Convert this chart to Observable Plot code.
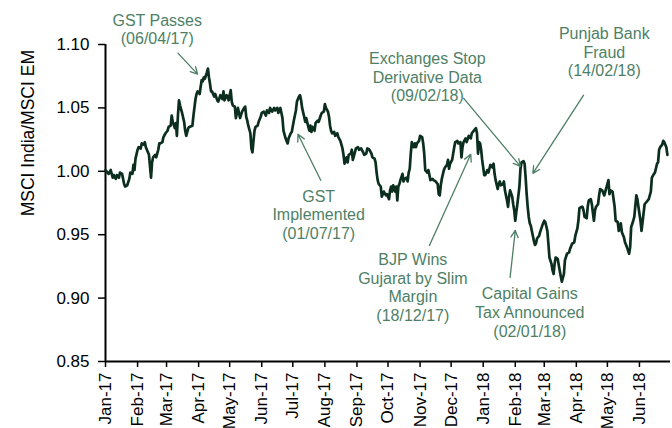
<!DOCTYPE html>
<html><head><meta charset="utf-8">
<script src="https://cdn.jsdelivr.net/npm/d3@7"></script>
<script src="https://cdn.jsdelivr.net/npm/@observablehq/plot@0.6"></script>
<style>body{margin:0;background:#fff;}</style>
</head><body><div id="chart"></div>
<script>
const dates = [
"2017-01-01","2017-01-03","2017-01-04","2017-01-06","2017-01-08","2017-01-09","2017-01-11","2017-01-12","2017-01-14","2017-01-15",
"2017-01-17","2017-01-19","2017-01-20","2017-01-22","2017-01-24","2017-01-25","2017-01-27","2017-01-28","2017-01-29","2017-01-30",
"2017-02-01","2017-02-02","2017-02-04","2017-02-05","2017-02-07","2017-02-08","2017-02-09","2017-02-11","2017-02-12","2017-02-14",
"2017-02-15","2017-02-16","2017-02-18","2017-02-19","2017-02-21","2017-02-22","2017-02-23","2017-02-25","2017-02-26","2017-02-28",
"2017-03-02","2017-03-03","2017-03-05","2017-03-06","2017-03-07","2017-03-09","2017-03-10","2017-03-11","2017-03-12","2017-03-13",
"2017-03-14","2017-03-16","2017-03-18","2017-03-19","2017-03-20","2017-03-22","2017-03-23","2017-03-26","2017-03-27","2017-03-29",
"2017-03-30","2017-03-31","2017-04-02","2017-04-03","2017-04-04","2017-04-05","2017-04-06","2017-04-07","2017-04-09","2017-04-10",
"2017-04-11","2017-04-12","2017-04-13","2017-04-14","2017-04-16","2017-04-17","2017-04-19","2017-04-20","2017-04-22","2017-04-24",
"2017-04-25","2017-04-26","2017-04-28","2017-04-29","2017-04-30","2017-05-02","2017-05-03","2017-05-04","2017-05-06","2017-05-07",
"2017-05-09","2017-05-10","2017-05-11","2017-05-13","2017-05-15","2017-05-16","2017-05-17","2017-05-18","2017-05-19","2017-05-21",
"2017-05-22","2017-05-23","2017-05-24","2017-05-25","2017-05-26","2017-05-28","2017-05-29","2017-05-31","2017-06-01","2017-06-03",
"2017-06-05","2017-06-06","2017-06-08","2017-06-09","2017-06-11","2017-06-13","2017-06-14","2017-06-16","2017-06-17","2017-06-19",
"2017-06-21","2017-06-22","2017-06-24","2017-06-26","2017-06-27","2017-06-29","2017-06-30","2017-07-02","2017-07-04","2017-07-05",
"2017-07-07","2017-07-08","2017-07-09","2017-07-10","2017-07-12","2017-07-13","2017-07-14","2017-07-16","2017-07-17","2017-07-18",
"2017-07-19","2017-07-20","2017-07-22","2017-07-23","2017-07-25","2017-07-26","2017-07-28","2017-07-29","2017-07-31","2017-08-01",
"2017-08-02","2017-08-04","2017-08-05","2017-08-06","2017-08-07","2017-08-08","2017-08-10","2017-08-11","2017-08-13","2017-08-14",
"2017-08-16","2017-08-18","2017-08-19","2017-08-20","2017-08-22","2017-08-23","2017-08-24","2017-08-26","2017-08-27","2017-08-28",
"2017-08-30","2017-08-31","2017-09-02","2017-09-03","2017-09-05","2017-09-07","2017-09-08","2017-09-10","2017-09-11","2017-09-13",
"2017-09-15","2017-09-16","2017-09-18","2017-09-19","2017-09-20","2017-09-21","2017-09-22","2017-09-23","2017-09-24","2017-09-25",
"2017-09-27","2017-09-29","2017-09-30","2017-10-02","2017-10-03","2017-10-04","2017-10-05","2017-10-06","2017-10-08","2017-10-09",
"2017-10-10","2017-10-11","2017-10-12","2017-10-13","2017-10-15","2017-10-16","2017-10-17","2017-10-19","2017-10-20","2017-10-21",
"2017-10-22","2017-10-23","2017-10-24","2017-10-26","2017-10-27","2017-10-28","2017-10-29","2017-10-31","2017-11-01","2017-11-03",
"2017-11-04","2017-11-05","2017-11-06","2017-11-08","2017-11-09","2017-11-10","2017-11-11","2017-11-13","2017-11-14","2017-11-16",
"2017-11-18","2017-11-19","2017-11-20","2017-11-21","2017-11-22","2017-11-24","2017-11-25","2017-11-27","2017-11-28","2017-11-29",
"2017-11-30","2017-12-02","2017-12-04","2017-12-05","2017-12-07","2017-12-08","2017-12-10","2017-12-11","2017-12-12","2017-12-13",
"2017-12-15","2017-12-16","2017-12-18","2017-12-20","2017-12-21","2017-12-23","2017-12-25","2017-12-26","2017-12-27","2017-12-28",
"2017-12-29","2017-12-30","2017-12-31","2018-01-02","2018-01-03","2018-01-05","2018-01-06","2018-01-08","2018-01-10","2018-01-11",
"2018-01-12","2018-01-13","2018-01-15","2018-01-16","2018-01-17","2018-01-18","2018-01-20","2018-01-21","2018-01-22","2018-01-24",
"2018-01-25","2018-01-26","2018-01-27","2018-01-29","2018-01-30","2018-01-31","2018-02-01","2018-02-02","2018-02-03","2018-02-05",
"2018-02-06","2018-02-07","2018-02-09","2018-02-10","2018-02-11","2018-02-12","2018-02-13","2018-02-14","2018-02-15","2018-02-16",
"2018-02-17","2018-02-18","2018-02-19","2018-02-20","2018-02-21","2018-02-22","2018-02-24","2018-02-25","2018-02-27","2018-03-01",
"2018-03-02","2018-03-04","2018-03-05","2018-03-06","2018-03-08","2018-03-09","2018-03-10","2018-03-11","2018-03-12","2018-03-14",
"2018-03-15","2018-03-17","2018-03-18","2018-03-20","2018-03-21","2018-03-23","2018-03-25","2018-03-26","2018-03-28","2018-03-30",
"2018-03-31","2018-04-02","2018-04-03","2018-04-04","2018-04-06","2018-04-07","2018-04-08","2018-04-09","2018-04-11","2018-04-12",
"2018-04-13","2018-04-15","2018-04-16","2018-04-18","2018-04-19","2018-04-20","2018-04-22","2018-04-23","2018-04-24","2018-04-26",
"2018-04-28","2018-04-29","2018-05-01","2018-05-02","2018-05-03","2018-05-04","2018-05-06","2018-05-07","2018-05-08","2018-05-09",
"2018-05-11","2018-05-12","2018-05-14","2018-05-15","2018-05-17","2018-05-18","2018-05-20","2018-05-22","2018-05-23","2018-05-24",
"2018-05-26","2018-05-27","2018-05-29","2018-05-30","2018-05-31","2018-06-02","2018-06-03","2018-06-05","2018-06-06","2018-06-08",
"2018-06-10","2018-06-12","2018-06-13","2018-06-15","2018-06-16","2018-06-18","2018-06-19","2018-06-20","2018-06-21","2018-06-23",
"2018-06-24","2018-06-25","2018-06-27","2018-06-28"
];
const ratio = [
1.001,0.999,0.998,1.001,0.995,0.997,0.994,0.997,0.995,0.999,
0.998,0.990,0.988,0.989,0.994,0.999,0.998,1.005,1.001,1.010,
1.017,1.019,1.018,1.022,1.021,1.023,1.019,1.015,1.013,0.995,
1.007,1.011,1.013,1.011,1.017,1.022,1.022,1.023,1.027,1.030,
1.032,1.035,1.036,1.044,1.039,1.034,1.038,1.028,1.044,1.056,
1.052,1.046,1.039,1.032,1.028,1.034,1.035,1.036,1.044,1.057,
1.061,1.063,1.061,1.067,1.072,1.071,1.074,1.073,1.078,1.081,
1.074,1.069,1.063,1.063,1.059,1.061,1.056,1.055,1.060,1.057,
1.063,1.056,1.060,1.059,1.056,1.064,1.055,1.052,1.051,1.042,
1.050,1.046,1.042,1.047,1.050,1.051,1.043,1.040,1.036,1.030,
1.018,1.015,1.024,1.032,1.035,1.036,1.039,1.043,1.046,1.047,
1.044,1.048,1.046,1.050,1.047,1.050,1.048,1.050,1.046,1.050,
1.042,1.032,1.026,1.022,1.026,1.030,1.031,1.040,1.048,1.055,
1.059,1.060,1.056,1.050,1.043,1.039,1.042,1.035,1.032,1.036,
1.031,1.035,1.032,1.038,1.040,1.039,1.044,1.046,1.047,1.053,
1.050,1.047,1.043,1.036,1.032,1.030,1.031,1.028,1.030,1.027,
1.024,1.018,1.013,1.006,1.011,1.007,1.013,1.014,1.017,1.009,
1.015,1.018,1.019,1.017,1.018,1.015,1.013,1.014,1.018,1.017,
1.014,1.011,1.010,1.007,0.999,0.993,0.990,0.989,0.988,0.980,
0.984,0.981,0.982,0.978,0.985,0.988,0.984,0.989,0.984,0.988,
0.977,0.988,0.990,0.993,0.998,0.992,0.994,0.995,0.992,0.999,
1.002,1.014,1.023,1.019,1.022,1.019,1.022,1.024,1.028,1.027,
1.022,1.014,1.001,0.999,1.001,0.997,0.993,0.994,0.993,0.992,
0.990,0.982,0.981,0.989,0.994,1.001,1.003,1.005,1.009,1.002,
1.006,1.009,1.019,1.023,1.024,1.022,1.023,1.011,1.019,1.023,
1.026,1.023,1.028,1.026,1.030,1.032,1.034,1.030,1.014,1.023,
1.022,1.017,1.009,0.997,0.997,1.001,0.999,1.005,1.003,1.006,
0.998,0.993,0.986,0.990,0.992,0.989,0.990,0.992,0.985,0.977,
0.972,0.980,0.985,0.980,0.974,0.969,0.961,0.968,0.974,0.988,
1.002,1.007,1.008,1.006,0.995,0.982,0.972,0.964,0.959,0.957,
0.953,0.949,0.945,0.942,0.943,0.947,0.949,0.952,0.957,0.961,
0.960,0.953,0.943,0.932,0.927,0.922,0.919,0.927,0.932,0.931,
0.926,0.917,0.913,0.919,0.930,0.935,0.936,0.939,0.943,0.944,
0.949,0.955,0.961,0.971,0.972,0.972,0.969,0.964,0.963,0.972,
0.977,0.978,0.974,0.961,0.969,0.972,0.974,0.981,0.986,0.985,
0.981,0.984,0.990,0.993,0.982,0.985,0.984,0.978,0.972,0.961,
0.960,0.953,0.959,0.952,0.948,0.944,0.940,0.935,0.940,0.956,
0.961,0.964,0.981,0.978,0.972,0.961,0.953,0.967,0.974,0.976,
0.978,0.984,0.995,0.998,0.999,1.006,1.007,1.017,1.019,1.021,
1.024,1.023,1.019,1.013
];
const yTicks = [0.85, 0.90, 0.95, 1.00, 1.05, 1.10];
const monthTicks = ["2017-01-01","2017-02-01","2017-03-01","2017-04-01","2017-05-01","2017-06-01",
  "2017-07-01","2017-08-01","2017-09-01","2017-10-01","2017-11-01","2017-12-01",
  "2018-01-01","2018-02-01","2018-03-01","2018-04-01","2018-05-01","2018-06-01"];
const xDomain = ["2017-01-01", "2018-07-01"];
const yDomain = [0.85, 1.10];
const yLabel = "MSCI India/MSCI EM";
const yLabelAt = 0.9645;
const noteText = ["GST Passes\n(06/04/17)", "GST\nImplemented\n(01/07/17)", "Exchanges Stop\nDerivative Data\n(09/02/18)",
  "Punjab Bank\nFraud\n(14/02/18)", "BJP Wins\nGujarat by Slim\nMargin\n(18/12/17)", "Capital Gains\nTax Announced\n(02/01/18)"];
const noteDate = ["2017-02-20", "2017-07-26", "2017-11-08", "2018-04-28", "2017-10-25", "2018-02-15"];
const noteValue = [1.1122, 0.966, 1.0746, 1.0944, 0.9088, 0.889];
const arrowFromDate = ["2017-03-12", "2017-07-28", "2017-12-13", "2018-04-08", "2017-11-10", "2018-01-27"];
const arrowFromValue = [1.0932, 0.9929, 1.0577, 1.060, 0.9415, 0.9163];
const arrowToDate = ["2017-03-31", "2017-07-06", "2018-02-06", "2018-02-18", "2017-12-20", "2018-02-01"];
const arrowToValue = [1.0766, 1.0292, 1.0039, 0.9984, 1.0134, 0.9534];

const parse = d3.utcParse("%Y-%m-%d");
const series = dates.map((d, i) => ({date: parse(d), value: ratio[i]}));
const notes = noteText.map((t, i) => ({text: t, date: parse(noteDate[i]), value: noteValue[i]}));
const arrows = arrowFromDate.map((d, i) => ({
  x1: parse(d), y1: arrowFromValue[i], x2: parse(arrowToDate[i]), y2: arrowToValue[i]}));

const green = "#4e7f66";
const font = "'Liberation Sans', Arial, sans-serif";

const chart = Plot.plot({
  width: 672, height: 428,
  marginLeft: 105, marginRight: 2, marginTop: 44, marginBottom: 67,
  style: {fontFamily: font, fontSize: "16px", color: "#000", background: "#fff", overflow: "visible"},
  x: {type: "utc", domain: xDomain.map(parse)},
  y: {domain: yDomain},
  marks: [
    Plot.axisY({ticks: yTicks, tickFormat: d3.format(".2f"), tickSize: 7, tickPadding: 9, label: null,
      fontSize: 17, stroke: "#000", strokeWidth: 1.5}),
    Plot.axisX({ticks: monthTicks.map(parse), tickFormat: d3.utcFormat("%b-%y"), tickRotate: -90,
      tickSize: 6, tickPadding: 5, label: null, fontSize: 17, stroke: "#000", strokeWidth: 1.5}),
    Plot.ruleX([parse(xDomain[0])], {stroke: "#000", strokeWidth: 2}),
    Plot.ruleY([yDomain[0]], {stroke: "#000", strokeWidth: 2}),
    Plot.line(series, {x: "date", y: "value", stroke: "#0b2e1f", strokeWidth: 2.7, curve: "linear"}),
    Plot.arrow(arrows, {x1: "x1", y1: "y1", x2: "x2", y2: "y2", stroke: green, strokeWidth: 1.3,
      headLength: 9, headAngle: 55, bend: 0}),
    Plot.text(notes, {x: "date", y: "value", text: "text", fill: green, fontSize: 16, lineHeight: 1.17,
      textAnchor: "middle", lineAnchor: "middle"}),
    Plot.text([yLabel], {y: () => yLabelAt, frameAnchor: "left", dx: -77, rotate: -90, fontSize: 17.5, fill: "#000"})
  ]
});
document.getElementById("chart").appendChild(chart);
</script>
</body></html>
